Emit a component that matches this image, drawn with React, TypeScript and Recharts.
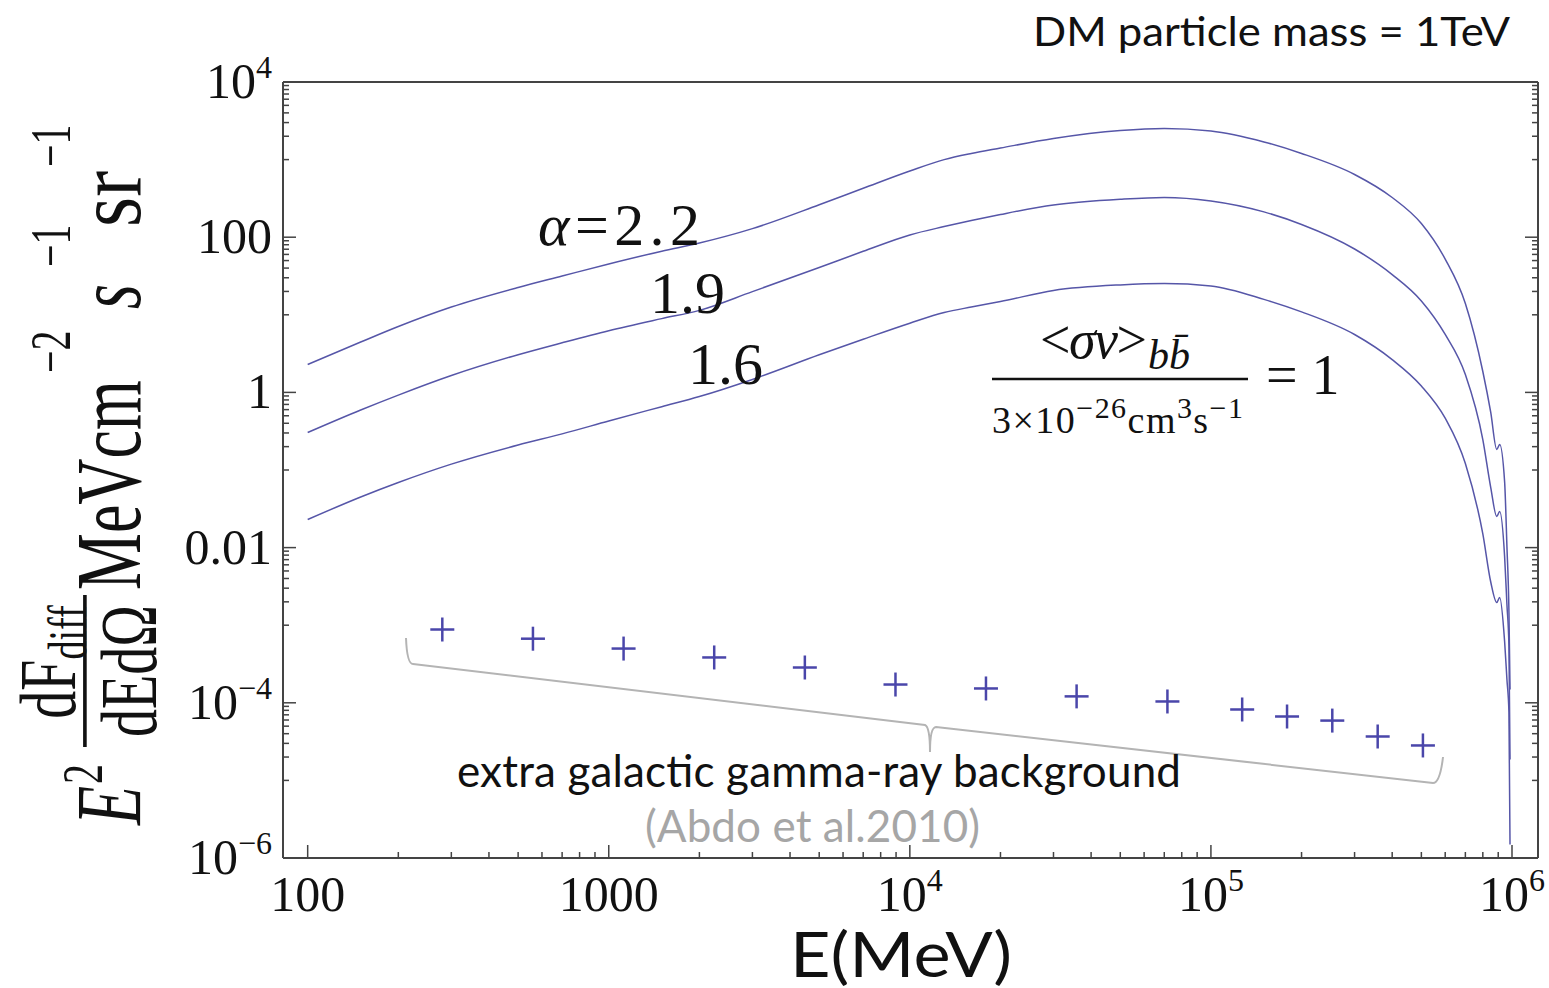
import React from "react"
import { ComposedChart, Line, Scatter, XAxis, YAxis } from "recharts"

// energy grid (MeV) shared by the three DM curves
const ENERGY = [
  100, 150, 200, 300, 500, 700, 1000, 1500, 2000, 3000, 5000, 7000, 1e4, 1.3e4, 1.6e4, 2e4, 3e4, 5e4, 7e4,
  1e5, 1.5e5, 2e5, 3e5, 4e5, 5e5, 6e5, 7e5, 8e5, 8.5e5, 8.9e5, 9.1e5, 9.45e5, 9.62e5, 9.77e5, 9.85e5,
]

// E^2 dF/dEdΩ for alpha = 2.2, 1.9, 1.6
const ALPHA_22 = [
  2.29, 4.46, 7.07, 12.6, 22.5, 31.6, 45.2, 66.0, 84.2, 129, 262, 427, 713, 1000, 1200, 1410, 1870, 2370, 2520,
  2340, 1690, 1200, 643, 325, 150, 52.2, 14.0, 1.86, 0.551, 0.184, 0.213, 0.071, 0.0103, 1.46e-3, 1.48e-4,
]
const ALPHA_19 = [
  0.304, 0.593, 0.923, 1.65, 3.06, 4.36, 6.24, 8.93, 11.4, 19.9, 40.7, 65.8, 107, 137, 164, 196, 260, 308, 325,
  293, 212, 146, 70.5, 33.0, 15.1, 5.59, 1.7, 0.247, 0.0594, 0.0252, 0.0292, 7.7e-3, 1.85e-3, 5.32e-4, 1.86e-5,
]
const ALPHA_16 = [
  0.023, 0.0449, 0.069, 0.119, 0.21, 0.292, 0.428, 0.655, 0.885, 1.47, 3.05, 4.85, 7.8, 10.7, 12.6, 14.8, 20.6,
  24.3, 25.3, 23.5, 15.8, 10.9, 5.57, 2.65, 1.21, 0.465, 0.121, 0.015, 3.6e-3, 1.96e-3, 2.28e-3, 6.2e-4, 2.0e-4,
  7.5e-5, 1.49e-6,
]

// extragalactic gamma-ray background (Abdo et al. 2010)
const EGRB_ENERGY = [280, 560, 1120, 2240, 4480, 8960, 17900, 35800, 71700, 127000, 179000, 253000, 358000, 506000]
const EGRB_FLUX = [
  8.8e-4, 6.7e-4, 5.0e-4, 3.84e-4, 2.85e-4, 1.72e-4, 1.53e-4, 1.21e-4, 1.04e-4, 8.2e-5, 6.66e-5, 5.9e-5, 3.68e-5,
  2.82e-5,
]

const X_MAJOR = [100, 1000, 1e4, 1e5, 1e6]
const X_LABELS = [["100", ""], ["1000", ""], ["10", "4"], ["10", "5"], ["10", "6"]]
const Y_MAJOR = [1e4, 100, 1, 0.01, 1e-4, 1e-6]
const Y_LABELS = [["10", "4"], ["100", ""], ["1", ""], ["0.01", ""], ["10", "\u22124"], ["10", "\u22126"]]

const X_DOMAIN = [82.8, 1.22e6]
const Y_DOMAIN = [1e-6, 1e4]

const X_TICKS = [...X_MAJOR]
for (let n = 2; n <= 5; n++) for (let k = 2; k <= 9; k++) X_TICKS.push(k * Math.pow(10, n))
const Y_TICKS = [...Y_MAJOR]
for (const n of [-5, -3, -1, 1, 3]) for (let k = 1; k <= 9; k++) Y_TICKS.push(k * Math.pow(10, n))
X_TICKS.sort((a, b) => a - b)
Y_TICKS.sort((a, b) => a - b)

const SERIF = "'Liberation Serif', 'Times New Roman', serif"
const SANS = "Lato, 'Open Sans', sans-serif"
const FRAME = "#444"
const CURVE = "#5656a8"
const PLUS = "#4a46aa"

const same = (a: number, b: number) => Math.abs(Math.log10(a) - Math.log10(b)) < 1e-6
const points = (ys: number[]) => ENERGY.map((e, i) => ({ e, f: ys[i] }))
const egrb = EGRB_ENERGY.map((e, i) => ({ e, f: EGRB_FLUX[i] }))

function BottomTick(props: any) {
  const { x, y, payload } = props
  const i = X_MAJOR.findIndex(m => same(m, payload.value))
  return (
    <g>
      <line x1={x} x2={x} y1={y} y2={y - (i >= 0 ? 13 : 6)} stroke={FRAME} strokeWidth={1.5} />
      {i >= 0 && (
        <text x={x} y={y + 53} textAnchor="middle" fontFamily={SERIF} fontSize={50} fill="#111">
          {X_LABELS[i][0]}
          {X_LABELS[i][1] && <tspan dy={-20} fontSize={32}>{X_LABELS[i][1]}</tspan>}
        </text>
      )}
    </g>
  )
}

function TopTick(props: any) {
  const { x, y, payload } = props
  const major = X_MAJOR.some(m => same(m, payload.value))
  return <line x1={x} x2={x} y1={y} y2={y + (major ? 13 : 6)} stroke={FRAME} strokeWidth={1.5} />
}

function LeftTick(props: any) {
  const { x, y, payload } = props
  const i = Y_MAJOR.findIndex(m => same(m, payload.value))
  return (
    <g>
      <line x1={x} x2={x + (i >= 0 ? 13 : 6)} y1={y} y2={y} stroke={FRAME} strokeWidth={1.5} />
      {i >= 0 && (
        <text x={x - 11} y={y + 16} textAnchor="end" fontFamily={SERIF} fontSize={50} fill="#111">
          {Y_LABELS[i][0]}
          {Y_LABELS[i][1] && <tspan dy={-20} fontSize={32}>{Y_LABELS[i][1]}</tspan>}
        </text>
      )}
    </g>
  )
}

function RightTick(props: any) {
  const { x, y, payload } = props
  const major = Y_MAJOR.some(m => same(m, payload.value))
  return <line x1={x} x2={x - (major ? 13 : 6)} y1={y} y2={y} stroke={FRAME} strokeWidth={1.5} />
}

function PlusMark(props: any) {
  const { cx, cy } = props
  return (
    <g stroke={PLUS} strokeWidth={2.5}>
      <line x1={cx - 12} x2={cx + 12} y1={cy} y2={cy} />
      <line x1={cx} x2={cx} y1={cy - 12} y2={cy + 12} />
    </g>
  )
}

function Annotations() {
  return (
    <svg width={1549} height={988} style={{ position: "absolute", left: 0, top: 0, pointerEvents: "none" }}>
      <text x={1033} y={46} fontFamily={SANS} fontSize={40} textLength={477} lengthAdjust="spacingAndGlyphs"
        fill="#111">
        DM particle mass = 1TeV
      </text>

      {/* y axis title */}
      <g transform="translate(140,825) scale(1.45,1) rotate(-90)" fontFamily={SERIF} fill="#111">
        <text x={0} y={0} fontSize={64} fontStyle="italic">E</text>
        <text x={41} y={-26} fontSize={40}>2</text>
        <text x={163} y={-45} fontSize={56} textAnchor="middle">
          dF<tspan fontSize={38} dy={8}>diff</tspan>
        </text>
        <line x1={78} x2={230} y1={-38} y2={-38} stroke="#111" strokeWidth={2.5} />
        <text x={154} y={11} fontSize={56} textAnchor="middle">dEdΩ</text>
        <text x={235} y={0} fontSize={64}>MeVcm</text>
        <text x={452} y={-48} fontSize={40}>{"\u22122"}</text>
        <text x={516} y={0} fontSize={64} fontStyle="italic">s</text>
        <text x={558} y={-48} fontSize={40}>{"\u22121"}</text>
        <text x={598} y={0} fontSize={64} textLength={56} lengthAdjust="spacingAndGlyphs">sr</text>
        <text x={658} y={-48} fontSize={40}>{"\u22121"}</text>
      </g>

      {/* curve labels */}
      <text x={538} y={245} fontFamily={SERIF} fontSize={60} textLength={162} fill="#111">
        <tspan fontStyle="italic">α</tspan>=2.2
      </text>
      <text x={650} y={313} fontFamily={SERIF} fontSize={60} fill="#111">1.9</text>
      <text x={688} y={384} fontFamily={SERIF} fontSize={60} fill="#111">1.6</text>

      {/* cross-section fraction */}
      <text x={1040} y={358} fontFamily={SERIF} fontSize={54} textLength={107} lengthAdjust="spacing" fill="#111">
        {"<"}<tspan fontStyle="italic">σv</tspan>{">"}
      </text>
      <text x={1148} y={369} fontFamily={SERIF} fontSize={42} fontStyle="italic" fill="#111">
        b{"b\u0304"}
      </text>
      <line x1={992} x2={1248} y1={379} y2={379} stroke="#111" strokeWidth={2.5} />
      <text x={992} y={433} fontFamily={SERIF} fontSize={38} textLength={251} lengthAdjust="spacing" fill="#111">
        3×10<tspan fontSize={30} dy={-15}>{"\u221226"}</tspan>
        <tspan dy={15}>cm</tspan>
        <tspan fontSize={30} dy={-15}>3</tspan>
        <tspan dy={15}>s</tspan>
        <tspan fontSize={30} dy={-15}>{"\u22121"}</tspan>
      </text>
      <text x={1266} y={394} fontFamily={SERIF} fontSize={56} fill="#111">= 1</text>

      {/* brace under the background points */}
      <path
        d="M406,638 Q407,664 413,664 L925,725 Q930,727 930,752 Q930,727 936,727 L1433,783 Q1440,783 1443,757"
        fill="none"
        stroke="#b4b4b4"
        strokeWidth={2}
      />
      <text x={457} y={787} fontFamily={SANS} fontSize={44} textLength={724} fill="#111">
        extra galactic gamma-ray background
      </text>
      <text x={645} y={842} fontFamily={SANS} fontSize={44} textLength={335} fill="#a6a6a6">
        (Abdo et al.2010)
      </text>
      <text x={790} y={977} fontFamily={SANS} fontSize={62} textLength={222} lengthAdjust="spacingAndGlyphs"
        fill="#111">
        E(MeV)
      </text>
    </svg>
  )
}

export default function App() {
  return (
    <div style={{ position: "absolute", left: 0, top: 0, width: 1549, height: 988, background: "#fff" }}>
      <ComposedChart width={1549} height={988} margin={{ top: 72, right: 1, bottom: 120, left: 273 }}>
        <XAxis
          xAxisId="x"
          dataKey="e"
          type="number"
          scale="log"
          domain={X_DOMAIN}
          allowDataOverflow
          ticks={X_TICKS}
          interval={0}
          tick={(p: any) => <BottomTick {...p} />}
          tickLine={false}
          tickSize={0}
          tickMargin={0}
          height={10}
          axisLine={{ stroke: FRAME, strokeWidth: 2 }}
        />
        <XAxis
          xAxisId="top"
          orientation="top"
          type="number"
          scale="log"
          domain={X_DOMAIN}
          allowDataOverflow
          ticks={X_TICKS}
          interval={0}
          tick={(p: any) => <TopTick {...p} />}
          tickLine={false}
          tickSize={0}
          tickMargin={0}
          height={10}
          axisLine={{ stroke: FRAME, strokeWidth: 2 }}
        />
        <YAxis
          yAxisId="y"
          dataKey="f"
          type="number"
          scale="log"
          domain={Y_DOMAIN}
          allowDataOverflow
          ticks={Y_TICKS}
          interval={0}
          tick={(p: any) => <LeftTick {...p} />}
          tickLine={false}
          tickSize={0}
          tickMargin={0}
          width={10}
          axisLine={{ stroke: FRAME, strokeWidth: 2 }}
        />
        <YAxis
          yAxisId="right"
          orientation="right"
          type="number"
          scale="log"
          domain={Y_DOMAIN}
          allowDataOverflow
          ticks={Y_TICKS}
          interval={0}
          tick={(p: any) => <RightTick {...p} />}
          tickLine={false}
          tickSize={0}
          tickMargin={0}
          width={10}
          axisLine={{ stroke: FRAME, strokeWidth: 2 }}
        />
        <Line data={points(ALPHA_22)} dataKey="f" xAxisId="x" yAxisId="y" type="monotoneX" stroke={CURVE}
          strokeWidth={1.5} dot={false} isAnimationActive={false} />
        <Line data={points(ALPHA_19)} dataKey="f" xAxisId="x" yAxisId="y" type="monotoneX" stroke={CURVE}
          strokeWidth={1.5} dot={false} isAnimationActive={false} />
        <Line data={points(ALPHA_16)} dataKey="f" xAxisId="x" yAxisId="y" type="monotoneX" stroke={CURVE}
          strokeWidth={1.5} dot={false} isAnimationActive={false} />
        <Line data={points(ALPHA_16)} dataKey="f" xAxisId="top" yAxisId="right" stroke="none" dot={false}
          activeDot={false} legendType="none" isAnimationActive={false} />
        <Scatter data={egrb} dataKey="f" xAxisId="x" yAxisId="y" shape={(p: any) => <PlusMark {...p} />}
          isAnimationActive={false} />
      </ComposedChart>
      <Annotations />
    </div>
  )
}
